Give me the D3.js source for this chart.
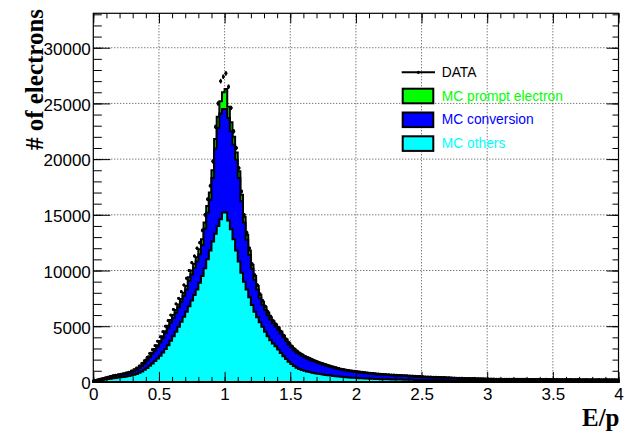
<!DOCTYPE html>
<html>
<head>
<meta charset="utf-8">
<script src="https://cdn.jsdelivr.net/npm/d3@7"></script>
<style>
  body { margin: 0; background: #fff; }
  svg { display: block; }
</style>
</head>
<body>
<div id="chart"></div>
<script>
var svgWidth = 625;
var svgHeight = 433;

// plot frame (pixels)
var frame = { left: 93.3, right: 618.5, top: 13.3, bottom: 381.9 };

// histogram binning of E/p
var binWidth = 0.02;
var xDomain = [0, 4];
var yMax = 33090;

var xMajorTicks = [0, 0.5, 1, 1.5, 2, 2.5, 3, 3.5, 4];
var yMajorTicks = [0, 5000, 10000, 15000, 20000, 25000, 30000];

// MC others (cyan), one value per 0.02 bin from 0 to 4
var mcOthers = [
  50,90,130,170,210,250,290,330,360,390,
  420,450,480,520,570,640,720,820,940,1080,
  1250,1450,1650,1870,2100,2350,2650,2950,3300,3700,
  4100,4500,4950,5400,5850,6300,6800,7300,7800,8300,
  8900,9500,10200,11000,11800,12600,13300,14000,14600,15200,
  15200,14500,13700,12800,11800,10800,9800,9000,8300,7600,
  6900,6300,5800,5350,4950,4500,4100,3750,3450,3200,
  2900,2600,2300,2050,1800,1600,1420,1280,1160,1070,
  1000,940,880,830,780,740,700,660,630,600,
  570,540,510,480,460,440,420,400,380,365,
  350,335,320,305,295,285,275,265,255,245,
  240,235,230,225,220,215,210,205,200,195,
  190,185,180,175,170,166,162,158,154,150,
  147,144,141,138,135,132,130,128,126,124,
  122,120,118,116,114,112,110,108,106,104,
  102,100,99,98,97,96,95,94,93,92,
  91,90,89,88,87,86,85,85,84,83,
  82,81,81,80,79,78,78,77,76,76,
  75,75,74,73,73,72,72,71,71,70,
  70,69,69,68,68,67,67,66,66,65
];

// MC conversion (blue)
var mcConversion = [
  45,55,80,100,115,135,160,180,195,215,
  225,230,250,265,295,320,355,410,480,570,
  670,760,870,960,1070,1180,1290,1420,1550,1630,
  1670,1710,1750,1790,1870,2000,2280,2350,2420,2500,
  2550,2800,3550,4200,4550,5700,7650,8800,9500,9300,
  9300,9200,8800,8500,8150,7500,6450,5300,4450,3800,
  3250,2880,2500,2170,1990,1960,1880,1850,1810,1770,
  1780,1740,1700,1610,1550,1480,1420,1370,1325,1270,
  1215,1160,1115,1070,1025,978,930,893,845,808,
  770,732,694,666,628,600,582,564,555,541,
  527,513,499,485,471,457,443,429,420,411,
  396,387,377,368,358,349,339,335,330,325,
  320,311,302,293,284,276,268,262,257,252,
  250,245,240,232,225,218,210,203,196,190,
  185,180,176,172,168,165,162,159,156,153,
  150,148,146,145,144,143,142,141,140,139,
  138,137,136,135,134,134,133,132,131,131,
  130,129,129,128,127,127,126,126,125,125,
  124,124,123,123,122,122,121,121,120,120,
  120,119,119,118,118,117,117,116,116,115
];

// MC prompt electron (green)
var mcPrompt = [
  5,5,10,10,15,15,20,20,25,25,
  25,30,30,35,35,40,45,50,60,70,
  80,90,100,120,130,150,160,180,200,220,
  230,240,250,260,280,300,320,350,380,400,
  450,500,550,600,650,700,850,1000,1100,1500,
  1800,1000,800,700,650,600,550,500,450,400,
  350,320,300,280,260,240,220,200,190,180,
  170,160,150,140,130,120,110,100,95,90,
  85,80,75,70,65,62,60,57,55,52,
  50,48,46,44,42,40,38,36,35,34,
  33,32,31,30,29,28,27,26,25,24,
  24,23,23,22,22,21,21,20,20,20,
  19,19,18,18,18,17,17,17,16,16,
  16,15,15,15,15,14,14,14,14,14,
  13,13,13,13,12,12,12,12,12,12,
  12,12,11,11,11,11,11,11,10,10,
  10,10,10,10,10,10,10,10,10,10,
  10,10,9,9,9,9,9,9,9,9,
  9,9,9,9,9,9,8,8,8,8,
  8,8,8,8,8,8,8,8,8,8
];

// DATA
var dataCounts = [
  110,170,240,300,360,420,490,550,600,650,
  700,750,810,880,980,1100,1250,1430,1650,1900,
  2200,2550,2900,3250,3650,4050,4500,5000,5500,6000,
  6500,7000,7500,8100,8700,9300,10000,10700,11300,12000,
  12500,13600,15000,16400,17600,19800,22900,25000,27000,27400,
  27700,26500,24600,22500,21000,19200,17100,15000,13400,12000,
  10600,9600,8700,7900,7300,6800,6300,5900,5500,5200,
  4900,4550,4200,3850,3520,3230,2980,2780,2600,2450,
  2320,2200,2090,1990,1890,1800,1710,1630,1550,1480,
  1410,1340,1270,1210,1150,1100,1060,1020,990,960,
  930,900,870,840,810,790,760,740,720,700,
  680,660,650,630,620,600,590,580,570,560,
  545,530,515,500,486,472,460,450,440,430,
  425,415,405,395,385,375,365,355,345,338,
  330,322,316,310,303,298,292,287,282,277,
  270,262,260,258,256,250,252,248,246,244,
  242,240,238,236,237,232,230,229,227,226,
  224,222,240,219,220,216,235,213,213,211,
  210,228,208,206,224,205,203,222,201,200,
  199,198,216,195,195,212,193,192,191,190
];

var seriesKeys = ["others", "conversion", "prompt"];
var seriesColors = { prompt: "#00ff00", conversion: "#0000ff", others: "#00ffff" };
var legendItems = [
  { label: "MC prompt electron", key: "prompt" },
  { label: "MC conversion", key: "conversion" },
  { label: "MC others", key: "others" }
];

var tickFont = "Liberation Sans, Arial, Helvetica, sans-serif";
var titleFont = "Liberation Serif, Times New Roman, serif";

var svg = d3.select("#chart")
  .append("svg")
  .attr("width", svgWidth)
  .attr("height", svgHeight);

svg.append("rect").attr("width", svgWidth).attr("height", svgHeight).attr("fill", "#fff");

var x = d3.scaleLinear().domain(xDomain).range([frame.left, frame.right]);
var y = d3.scaleLinear().domain([0, yMax]).range([frame.bottom, frame.top]);

// grid (dotted) behind everything
var grid = svg.append("g").attr("class", "grid");
grid.selectAll("line.gx")
  .data(xMajorTicks.filter(d => d > xDomain[0] && d < xDomain[1]))
  .enter().append("line")
  .attr("x1", d => x(d)).attr("x2", d => x(d))
  .attr("y1", frame.top).attr("y2", frame.bottom)
  .attr("stroke", "#444").attr("stroke-width", 1).attr("stroke-dasharray", "1,2");
grid.selectAll("line.gy")
  .data(yMajorTicks.filter(d => d > 0))
  .enter().append("line")
  .attr("y1", d => y(d)).attr("y2", d => y(d))
  .attr("x1", frame.left).attr("x2", frame.right)
  .attr("stroke", "#444").attr("stroke-width", 1).attr("stroke-dasharray", "1,2");

// stacked histograms
var rows = mcOthers.map(function(v, i) {
  return { x0: i * binWidth, others: v, conversion: mcConversion[i], prompt: mcPrompt[i] };
});
var stacked = d3.stack().keys(seriesKeys)(rows);

var area = d3.area()
  .x(d => x(d.x))
  .y0(y(0))
  .y1(d => y(d.v))
  .curve(d3.curveStepAfter);

// ROOT THStack style: draw cumulative sums from the top layer down, each filled from zero
stacked.slice().reverse().forEach(function(layer) {
  var pts = layer.map(d => ({ x: d.data.x0, v: d[1] }));
  pts.push({ x: xDomain[1], v: layer[layer.length - 1][1] });
  svg.append("path")
    .datum(pts)
    .attr("d", area)
    .attr("fill", seriesColors[layer.key])
    .attr("stroke", "#000")
    .attr("stroke-width", 2)
    .attr("stroke-linejoin", "miter");
});

// data points with error bars
var dataG = svg.append("g").attr("class", "data");
dataCounts.forEach(function(n, i) {
  var xl = x(i * binWidth), xr = x((i + 1) * binWidth), xc = (xl + xr) / 2;
  var e = Math.sqrt(n);
  dataG.append("line")
    .attr("x1", xl).attr("x2", xr).attr("y1", y(n)).attr("y2", y(n))
    .attr("stroke", "#000").attr("stroke-width", 2);
  dataG.append("line")
    .attr("x1", xc).attr("x2", xc).attr("y1", y(n - e) + 0.5).attr("y2", y(n + e) - 0.5)
    .attr("stroke", "#000").attr("stroke-width", 1.5);
  dataG.append("circle")
    .attr("cx", xc).attr("cy", y(n)).attr("r", 1.4).attr("fill", "#000");
});

// axes
function styleAxis(g) {
  g.select(".domain").remove();
  g.selectAll(".tick line").attr("stroke", "#000").attr("stroke-width", 1);
  g.selectAll("text").attr("font-family", tickFont).attr("font-size", 17).attr("fill", "#000");
}

var xMinor = d3.range(0, 41).map(i => i / 10);
var yMinor = d3.range(0, 34).map(i => i * 1000);

svg.append("g")
  .attr("transform", `translate(0, ${frame.bottom})`)
  .call(d3.axisBottom(x).tickValues(xMinor).tickSize(-5).tickSizeOuter(0).tickFormat(""))
  .call(styleAxis);
svg.append("g")
  .attr("transform", `translate(0, ${frame.bottom})`)
  .call(d3.axisBottom(x).tickValues(xMajorTicks).tickSize(-10).tickSizeOuter(0)
    .tickPadding(6.5).tickFormat(d3.format("~g")))
  .call(styleAxis);

svg.append("g")
  .attr("transform", `translate(0, ${frame.top})`)
  .call(d3.axisTop(x).tickValues(xMinor).tickSize(-5).tickSizeOuter(0).tickFormat(""))
  .call(styleAxis);
svg.append("g")
  .attr("transform", `translate(0, ${frame.top})`)
  .call(d3.axisTop(x).tickValues(xMajorTicks).tickSize(-10).tickSizeOuter(0).tickFormat(""))
  .call(styleAxis);

svg.append("g")
  .attr("transform", `translate(${frame.left}, 0)`)
  .call(d3.axisLeft(y).tickValues(yMinor).tickSize(-8.5).tickSizeOuter(0).tickFormat(""))
  .call(styleAxis);
var yAxis = svg.append("g")
  .attr("transform", `translate(${frame.left}, 0)`)
  .call(d3.axisLeft(y).tickValues(yMajorTicks).tickSize(-17).tickSizeOuter(0)
    .tickPadding(2.5).tickFormat(d3.format("d")))
  .call(styleAxis);
yAxis.selectAll("text").attr("dy", "0.4em");

svg.append("g")
  .attr("transform", `translate(${frame.right}, 0)`)
  .call(d3.axisRight(y).tickValues(yMinor).tickSize(-6).tickSizeOuter(0).tickFormat(""))
  .call(styleAxis);
svg.append("g")
  .attr("transform", `translate(${frame.right}, 0)`)
  .call(d3.axisRight(y).tickValues(yMajorTicks).tickSize(-12).tickSizeOuter(0).tickFormat(""))
  .call(styleAxis);

// frame
svg.append("rect")
  .attr("x", frame.left).attr("y", frame.top)
  .attr("width", frame.right - frame.left).attr("height", frame.bottom - frame.top)
  .attr("fill", "none").attr("stroke", "#000").attr("stroke-width", 1.2);

// axis titles
svg.append("text")
  .attr("transform", "translate(43, 79.5) rotate(-90)")
  .attr("text-anchor", "middle")
  .attr("font-family", titleFont).attr("font-weight", "bold").attr("font-size", 25)
  .text("# of electrons");

svg.append("text")
  .attr("x", 619.5).attr("y", 425.5)
  .attr("text-anchor", "end")
  .attr("font-family", titleFont).attr("font-weight", "bold").attr("font-size", 25)
  .text("E/p");

// legend
var legend = svg.append("g").attr("class", "legend");
legend.append("line")
  .attr("x1", 401.7).attr("x2", 435).attr("y1", 72.3).attr("y2", 72.3)
  .attr("stroke", "#000").attr("stroke-width", 2);
legend.append("circle").attr("cx", 418.3).attr("cy", 72.3).attr("r", 1.6).attr("fill", "#000");
legend.append("text")
  .attr("x", 441.7).attr("y", 76.8)
  .attr("font-family", tickFont).attr("font-size", 13.8).attr("fill", "#000")
  .text("DATA");

legendItems.forEach(function(item, i) {
  var cy = 96 + i * 23.8;
  legend.append("rect")
    .attr("x", 402.7).attr("y", cy - 7.3)
    .attr("width", 30.6).attr("height", 14.6)
    .attr("fill", seriesColors[item.key])
    .attr("stroke", "#000").attr("stroke-width", 2);
  legend.append("text")
    .attr("x", 441.7).attr("y", cy + 4.6)
    .attr("font-family", tickFont).attr("font-size", 13.8)
    .attr("fill", seriesColors[item.key])
    .text(item.label);
});
</script>
</body>
</html>
